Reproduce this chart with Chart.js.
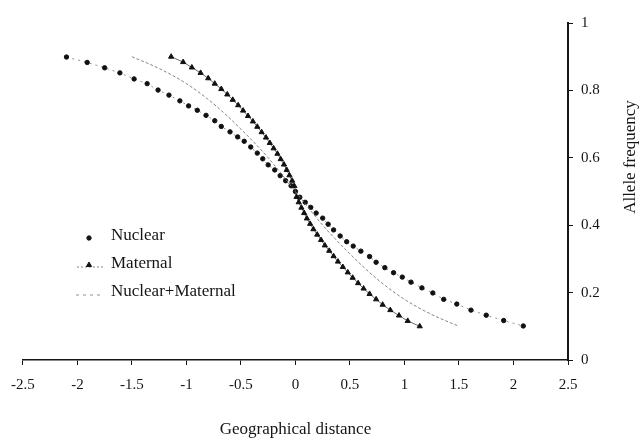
<!DOCTYPE html>
<html>
<head>
<meta charset="utf-8">
<script src="https://cdn.jsdelivr.net/npm/chart.js@4.4.1/dist/chart.umd.min.js"></script>
<style>
  body { margin: 0; background: #fff; }
  #wrap { width: 643px; height: 438px; }
</style>
</head>
<body>
<div id="wrap"><canvas id="cline" width="643" height="438"></canvas></div>
<script>
    // values
    var nuclearX = [-2.10, -1.91, -1.75, -1.61, -1.48, -1.36, -1.26, -1.16, -1.06, -0.98, -0.90, -0.82, -0.74, -0.68, -0.60, -0.53, -0.47, -0.41, -0.35, -0.30, -0.25, -0.19, -0.14, -0.09, -0.04, 0.00,
                    0.04, 0.09, 0.14, 0.19, 0.25, 0.30, 0.35, 0.41, 0.47, 0.53, 0.60, 0.68, 0.74, 0.82, 0.90, 0.98, 1.06, 1.16, 1.26, 1.36, 1.48, 1.61, 1.75, 1.91, 2.09];
    var nuclearY = [0.899, 0.883, 0.867, 0.852, 0.834, 0.820, 0.801, 0.786, 0.769, 0.754, 0.741, 0.726, 0.710, 0.693, 0.677, 0.662, 0.649, 0.632, 0.614, 0.597, 0.579, 0.564, 0.547, 0.532, 0.517, 0.500,
                    0.483, 0.468, 0.453, 0.436, 0.421, 0.403, 0.386, 0.368, 0.351, 0.338, 0.323, 0.307, 0.290, 0.274, 0.259, 0.246, 0.231, 0.214, 0.199, 0.180, 0.166, 0.148, 0.133, 0.117, 0.101];

    var maternalX = [-1.14, -1.03, -0.95, -0.87, -0.80, -0.74, -0.68, -0.625, -0.575, -0.525, -0.48, -0.435, -0.39, -0.35, -0.31, -0.27, -0.235, -0.20, -0.165, -0.135, -0.105, -0.08, -0.055, -0.03, -0.01,
                     0.01, 0.03, 0.055, 0.08, 0.105, 0.135, 0.165, 0.20, 0.235, 0.27, 0.31, 0.35, 0.39, 0.435, 0.48, 0.525, 0.575, 0.625, 0.68, 0.74, 0.80, 0.87, 0.95, 1.03, 1.14];
    var maternalY = [0.900, 0.884, 0.868, 0.852, 0.836, 0.820, 0.804, 0.788, 0.772, 0.756, 0.740, 0.724, 0.708, 0.692, 0.676, 0.660, 0.644, 0.628, 0.612, 0.596, 0.580, 0.564, 0.548, 0.532, 0.516,
                     0.484, 0.468, 0.452, 0.436, 0.420, 0.404, 0.388, 0.372, 0.356, 0.340, 0.324, 0.308, 0.292, 0.276, 0.260, 0.244, 0.228, 0.212, 0.196, 0.180, 0.164, 0.148, 0.132, 0.116, 0.100];

    var comboX = [-1.5, -1.25, -1.0, -0.75, -0.5, -0.25, 0, 0.25, 0.5, 0.75, 1.0, 1.25, 1.5];
    var comboY = [0.90, 0.865, 0.82, 0.76, 0.685, 0.60, 0.50, 0.40, 0.315, 0.24, 0.18, 0.135, 0.10];

    var seriesNames = ['Nuclear', 'Maternal', 'Nuclear+Maternal'];

    var xTicks = [-2.5, -2, -1.5, -1, -0.5, 0, 0.5, 1, 1.5, 2, 2.5];
    var xTickLabels = ['-2.5', '-2', '-1.5', '-1', '-0.5', '0', '0.5', '1', '1.5', '2', '2.5'];
    var yTicks = [0, 0.2, 0.4, 0.6, 0.8, 1];
    var yTickLabels = ['0', '0.2', '0.4', '0.6', '0.8', '1'];

    function pairs(xs, ys) {
        return xs.map(function (x, i) { return { x: x, y: ys[i] }; });
    }

    var serif = '"Liberation Serif", "Times New Roman", serif';
    var ink = '#151515';

    //legend inside the plot + right-hand axis title (reads bottom to top)//
    var extras = {
        id: 'extras',
        afterDraw: function (chart) {
            var ctx = chart.ctx;
            ctx.save();
            ctx.fillStyle = ink;
            ctx.strokeStyle = ink;
            ctx.textBaseline = 'middle';
            ctx.font = '17px ' + serif;

            // Nuclear
            Chart.helpers.drawPoint(ctx, { pointStyle: 'circle', radius: 2.2, borderWidth: 1 }, 89, 238);
            ctx.fillText(seriesNames[0], 111, 236);

            // Maternal
            ctx.save();
            ctx.lineWidth = 0.8;
            ctx.strokeStyle = '#666';
            ctx.setLineDash([2, 2]);
            ctx.beginPath(); ctx.moveTo(77, 267); ctx.lineTo(104, 267); ctx.stroke();
            ctx.restore();
            Chart.helpers.drawPoint(ctx, { pointStyle: 'triangle', radius: 3, borderWidth: 1 }, 89, 265);
            ctx.fillText(seriesNames[1], 111, 264);

            // Nuclear+Maternal
            ctx.save();
            ctx.lineWidth = 0.8;
            ctx.strokeStyle = '#777';
            ctx.setLineDash([3, 4]);
            ctx.beginPath(); ctx.moveTo(76, 295); ctx.lineTo(104, 295); ctx.stroke();
            ctx.restore();
            ctx.fillText(seriesNames[2], 111, 292);

            // y title
            ctx.translate(631, 157);
            ctx.rotate(-Math.PI / 2);
            ctx.textAlign = 'center';
            ctx.fillText('Allele frequency', 0, 0);
            ctx.restore();
        }
    };

    var cline = document.getElementById('cline').getContext('2d');

    var chart = new Chart(cline, {
        type: 'line',
        data: {
            datasets: [{
                label: seriesNames[2],
                data: pairs(comboX, comboY),
                borderColor: '#777',
                borderWidth: 0.9,
                borderDash: [3, 2],
                cubicInterpolationMode: 'monotone',
                pointRadius: 0
            }, {
                label: seriesNames[1],
                data: pairs(maternalX, maternalY),
                borderColor: '#444',
                borderWidth: 0.8,
                pointStyle: 'triangle',
                pointRadius: 3,
                pointBackgroundColor: '#111',
                pointBorderColor: '#111',
                pointBorderWidth: 1
            }, {
                label: seriesNames[0],
                data: pairs(nuclearX, nuclearY),
                borderColor: '#777',
                borderWidth: 0.8,
                borderDash: [2, 4],
                pointStyle: 'circle',
                pointRadius: 2.2,
                pointBackgroundColor: '#111',
                pointBorderColor: '#111',
                pointBorderWidth: 1
            }]
        },
        options: {
            responsive: false,
            animation: false,
            layout: { padding: { left: 21, top: 23, right: 0, bottom: 0 } },
            plugins: {
                legend: { display: false },
                tooltip: { enabled: false }
            },
            scales: {
                x: {
                    type: 'linear',
                    min: -2.5,
                    max: 2.5,
                    afterBuildTicks: function (s) { s.ticks = xTicks.map(function (v) { return { value: v }; }); },
                    ticks: { color: ink, padding: 11, maxRotation: 0, autoSkip: false,
                             font: { family: serif, size: 15 },
                             callback: function (v, i) { return xTickLabels[i]; } },
                    grid: { drawOnChartArea: false, drawTicks: true, tickLength: 5, color: ink, lineWidth: 1 },
                    border: { display: true, color: ink, width: 1.5 },
                    title: { display: true, text: 'Geographical distance', color: ink,
                             font: { family: serif, size: 17, lineHeight: 1 }, padding: { top: 0, bottom: 0 } },
                    afterFit: function (s) { s.height = 78; }
                },
                y: {
                    position: 'right',
                    min: 0,
                    max: 1,
                    afterBuildTicks: function (s) { s.ticks = yTicks.map(function (v) { return { value: v }; }); },
                    ticks: { color: ink, padding: 8,
                             font: { family: serif, size: 15 },
                             callback: function (v, i) { return yTickLabels[i]; } },
                    grid: { drawOnChartArea: false, drawTicks: true, tickLength: 5, color: ink, lineWidth: 1 },
                    border: { display: true, color: ink, width: 2 },
                    afterFit: function (s) { s.width = 75; }
                }
            }
        },
        plugins: [extras]
    });
</script>
</body>
</html>
